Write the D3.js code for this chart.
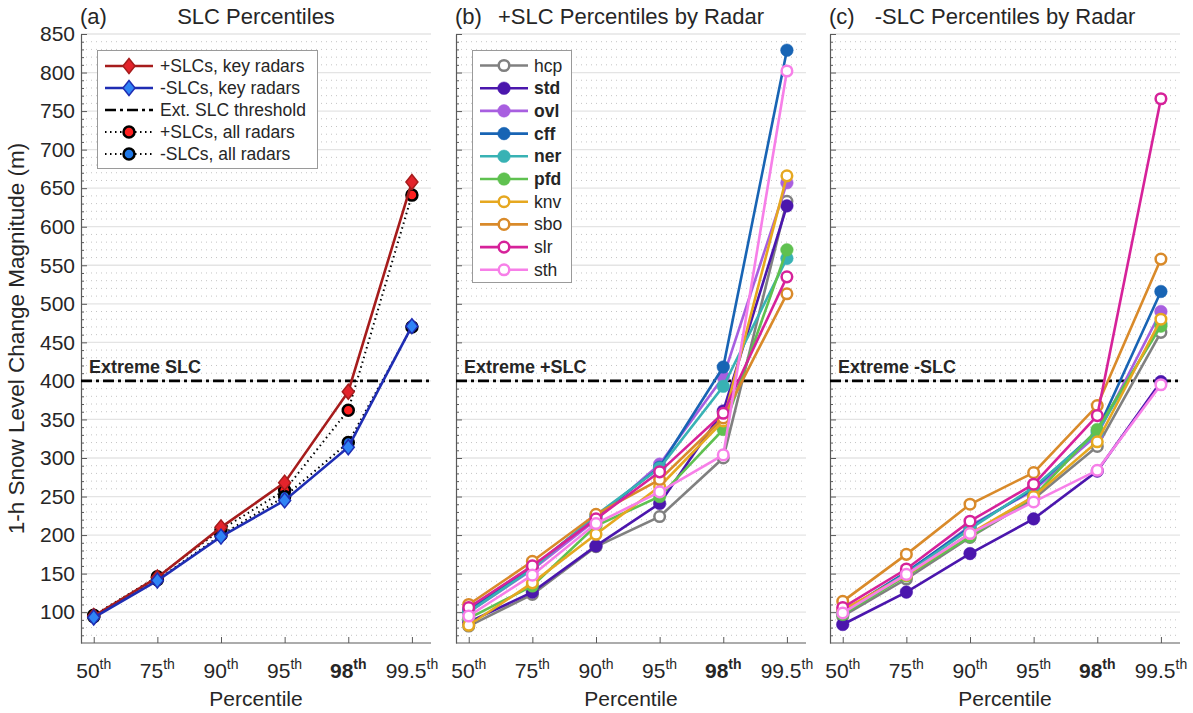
<!DOCTYPE html>
<html>
<head>
<meta charset="utf-8">
<script src="https://cdn.jsdelivr.net/npm/d3@7"></script>
<style>
  body { margin: 0; background: #fff; }
  svg { display: block; }
  text { font-family: "Liberation Sans", Arial, Helvetica, sans-serif; fill: #262626; }
</style>
</head>
<body>
<svg id="chart" width="1193" height="713"></svg>
<script>
// ---- data -------------------------------------------------------------
const percentileLabels = ["50", "75", "90", "95", "98", "99.5"];
const boldPercentile = "98";
const yTickValues = d3.range(100, 851, 50);
const extremeThreshold = 400;

// panel (a): overall SLC percentiles (m)
const plusKeyRadars  = [95, 145, 210, 268, 386, 658];
const minusKeyRadars = [93, 141, 198, 245, 314, 471];
const plusAllRadars  = [96, 146, 207, 258, 362, 641];
const minusAllRadars = [94, 142, 200, 250, 320, 470];

// radars (key radars are drawn with filled markers and bold legend text)
const radarNames  = ["hcp", "std", "ovl", "cff", "ner", "pfd", "knv", "sbo", "slr", "sth"];
const radarColors = ["#808080", "#4b16ad", "#a85fe0", "#1864b4", "#38b2b4", "#5fc150", "#e6a820", "#d98a2a", "#d6229a", "#f77fe8"];
const radarIsKey  = [false, true, true, true, true, true, false, false, false, false];

// panel (b): +SLC percentiles by radar (m)
const plusHcp = [82, 123, 185, 224, 300, 633];
const plusStd = [87, 126, 186, 241, 361, 627];
const plusOvl = [100, 155, 220, 292, 405, 657];
const plusCff = [103, 158, 224, 288, 418, 829];
const plusNer = [100, 156, 226, 287, 393, 559];
const plusPfd = [92, 134, 212, 250, 337, 570];
const plusKnv = [83, 138, 201, 263, 348, 666];
const plusSbo = [110, 166, 227, 272, 352, 513];
const plusSlr = [106, 160, 221, 282, 358, 535];
const plusSth = [95, 148, 215, 256, 304, 802];

// panel (c): -SLC percentiles by radar (m)
const minusHcp = [95, 143, 197, 247, 315, 463];
const minusStd = [84, 126, 176, 221, 283, 399];
const minusOvl = [98, 150, 212, 258, 330, 490];
const minusCff = [100, 152, 210, 260, 335, 516];
const minusNer = [100, 150, 208, 262, 333, 474];
const minusPfd = [97, 147, 198, 250, 337, 471];
const minusKnv = [103, 148, 202, 250, 321, 480];
const minusSbo = [114, 175, 240, 281, 368, 558];
const minusSlr = [106, 156, 218, 266, 355, 766];
const minusSth = [99, 149, 202, 243, 284, 395];

const plusByRadar  = [plusHcp, plusStd, plusOvl, plusCff, plusNer, plusPfd, plusKnv, plusSbo, plusSlr, plusSth];
const minusByRadar = [minusHcp, minusStd, minusOvl, minusCff, minusNer, minusPfd, minusKnv, minusSbo, minusSlr, minusSth];

// ---- layout -----------------------------------------------------------
const svg = d3.select("#chart");
const plotTop = 34, plotBottom = 643, panelW = 350;
const panelLefts = [81, 456, 830];
const y = d3.scaleLinear().domain([60, 850]).range([plotBottom, plotTop]);
const xIdx = d3.range(1, percentileLabels.length + 1);

const FONT_TICK = 21, FONT_TITLE = 22, FONT_LEG = 17.5;
const DASHDOT = "11,4,3,4";

function makeX(left) {
  return d3.scaleLinear().domain([0.8, 6.3]).range([left, left + panelW]);
}

function drawFrame(g, x, showYLabels) {
  // minor dotted grid
  const minorVals = d3.range(70, 851, 10).filter(v => v % 50 !== 0);
  g.append("g").selectAll("line").data(minorVals).join("line")
    .attr("x1", x.range()[0]).attr("x2", x.range()[1])
    .attr("y1", d => y(d)).attr("y2", d => y(d))
    .attr("stroke", "#c4c4c4").attr("stroke-width", 1)
    .attr("stroke-dasharray", "1,4");
  // major grid
  g.append("g").selectAll("line").data(yTickValues).join("line")
    .attr("x1", x.range()[0]).attr("x2", x.range()[1])
    .attr("y1", d => y(d)).attr("y2", d => y(d))
    .attr("stroke", "#e4e4e4").attr("stroke-width", 1.3);

  // y axis with inward ticks
  const yAxis = d3.axisLeft(y).tickValues(yTickValues).tickSize(-6).tickSizeOuter(0).tickPadding(6)
    .tickFormat(showYLabels ? d3.format("d") : "");
  const ya = g.append("g").attr("transform", `translate(${x.range()[0]},0)`).call(yAxis);
  ya.selectAll("text").attr("font-size", FONT_TICK).attr("fill", "#262626")
    .style("font-family", "'Liberation Sans', Arial, sans-serif");
  const minorAxis = d3.axisLeft(y).tickValues(minorVals)
    .tickSize(-3).tickSizeOuter(0).tickFormat("");
  const ym = g.append("g").attr("transform", `translate(${x.range()[0]},0)`).call(minorAxis);
  ym.select(".domain").remove();
  [ya, ym].forEach(a => {
    a.selectAll("line").attr("stroke", "#5a5a5a");
    a.selectAll(".domain").attr("stroke", "#5a5a5a").attr("stroke-width", 1.2);
  });

  // x axis
  const xAxis = d3.axisBottom(x).tickValues(xIdx).tickSize(-6).tickSizeOuter(0).tickFormat("");
  const xa = g.append("g").attr("transform", `translate(0,${plotBottom})`).call(xAxis);
  xa.selectAll("line").attr("stroke", "#5a5a5a");
  xa.select(".domain").attr("stroke", "#5a5a5a").attr("stroke-width", 1.2)
    .attr("d", `M${x.range()[0]},0H${x.range()[1]}`);

  // percentile labels with superscript ordinals
  const lab = g.append("g").selectAll("text").data(percentileLabels).join("text")
    .attr("x", (d, i) => x(xIdx[i])).attr("y", 678)
    .attr("text-anchor", "middle").attr("font-size", FONT_TICK)
    .attr("font-weight", d => d === boldPercentile ? "bold" : "normal");
  lab.append("tspan").text(d => d);
  lab.append("tspan").attr("dy", -9).attr("font-size", 14).text("th");

  g.append("text").attr("x", (x.range()[0] + x.range()[1]) / 2).attr("y", 706)
    .attr("text-anchor", "middle").attr("font-size", FONT_TICK).text("Percentile");
}

function drawTitle(g, x, tag, title) {
  g.append("text").attr("x", x.range()[0] - 1).attr("y", 24).attr("font-size", FONT_TITLE).text(tag);
  g.append("text").attr("x", (x.range()[0] + x.range()[1]) / 2).attr("y", 24)
    .attr("text-anchor", "middle").attr("font-size", FONT_TITLE).text(title);
}

function drawThreshold(g, x, label) {
  g.append("line").attr("x1", x.range()[0]).attr("x2", x.range()[1])
    .attr("y1", y(extremeThreshold)).attr("y2", y(extremeThreshold))
    .attr("stroke", "#000").attr("stroke-width", 2.6).attr("stroke-dasharray", DASHDOT);
  g.append("text").attr("x", x.range()[0] + 8).attr("y", y(extremeThreshold) - 8)
    .attr("font-size", 18).attr("font-weight", "bold").attr("fill", "#000").text(label);
}

function diamondPath(cx, cy, hw = 6, hh = 7.5) {
  return `M${cx},${cy - hh}L${cx + hw},${cy}L${cx},${cy + hh}L${cx - hw},${cy}Z`;
}

// ---- panel (a) --------------------------------------------------------
{
  const x = makeX(panelLefts[0]);
  const g = svg.append("g");
  drawFrame(g, x, true);
  drawTitle(g, x, "(a)", "SLC Percentiles");
  drawThreshold(g, x, "Extreme SLC");

  const line = d3.line().x((d, i) => x(xIdx[i])).y(d => y(d));

  // all-radar percentiles: dotted black lines with circle markers
  [[plusAllRadars, "#ff2020"], [minusAllRadars, "#1f78e8"]].forEach(([vals, fill]) => {
    g.append("path").attr("d", line(vals)).attr("fill", "none")
      .attr("stroke", "#000").attr("stroke-width", 2).attr("stroke-dasharray", "1.5,3.5");
    g.append("g").selectAll("circle").data(vals).join("circle")
      .attr("cx", (d, i) => x(xIdx[i])).attr("cy", d => y(d)).attr("r", 5.5)
      .attr("fill", fill).attr("stroke", "#000").attr("stroke-width", 2.5);
  });

  // key-radar percentiles: solid lines with diamonds
  [[plusKeyRadars, "#a61c1c", "#e3232b"], [minusKeyRadars, "#1f2db3", "#2f84f5"]].forEach(([vals, stroke, fill]) => {
    g.append("path").attr("d", line(vals)).attr("fill", "none")
      .attr("stroke", stroke).attr("stroke-width", 2.6);
    g.append("g").selectAll("path").data(vals).join("path")
      .attr("d", (d, i) => diamondPath(x(xIdx[i]), y(d)))
      .attr("fill", fill).attr("stroke", stroke).attr("stroke-width", 1.5);
  });

  // legend
  const lg = g.append("g");
  lg.append("rect").attr("x", 97.5).attr("y", 50.5).attr("width", 220).attr("height", 118)
    .attr("fill", "#fff").attr("stroke", "#9a9a9a").attr("stroke-width", 1);
  const rows = [
    { text: "+SLCs, key radars", kind: "diamond", stroke: "#a61c1c", fill: "#e3232b" },
    { text: "-SLCs, key radars", kind: "diamond", stroke: "#1f2db3", fill: "#2f84f5" },
    { text: "Ext. SLC threshold", kind: "dashdot" },
    { text: "+SLCs, all radars", kind: "circle", fill: "#ff2020" },
    { text: "-SLCs, all radars", kind: "circle", fill: "#1f78e8" }
  ];
  rows.forEach((r, i) => {
    const cy = 66 + i * 22;
    const x0 = 105, x1 = 153, cx = 129;
    if (r.kind === "diamond") {
      lg.append("line").attr("x1", x0).attr("x2", x1).attr("y1", cy).attr("y2", cy)
        .attr("stroke", r.stroke).attr("stroke-width", 2.6);
      lg.append("path").attr("d", diamondPath(cx, cy)).attr("fill", r.fill)
        .attr("stroke", r.stroke).attr("stroke-width", 1.5);
    } else if (r.kind === "dashdot") {
      lg.append("line").attr("x1", x0).attr("x2", x1).attr("y1", cy).attr("y2", cy)
        .attr("stroke", "#000").attr("stroke-width", 2.6).attr("stroke-dasharray", DASHDOT);
    } else {
      lg.append("line").attr("x1", x0).attr("x2", x1).attr("y1", cy).attr("y2", cy)
        .attr("stroke", "#000").attr("stroke-width", 2).attr("stroke-dasharray", "1.5,3.5");
      lg.append("circle").attr("cx", cx).attr("cy", cy).attr("r", 5.5)
        .attr("fill", r.fill).attr("stroke", "#000").attr("stroke-width", 2.5);
    }
    lg.append("text").attr("x", 160).attr("y", cy + 6).attr("font-size", FONT_LEG).text(r.text);
  });
}

// ---- panels (b) and (c) -----------------------------------------------
function radarPanel(left, tag, title, thresholdLabel, seriesList, withLegend) {
  const x = makeX(left);
  const g = svg.append("g");
  drawFrame(g, x, false);
  drawTitle(g, x, tag, title);
  drawThreshold(g, x, thresholdLabel);

  const line = d3.line().x((d, i) => x(xIdx[i])).y(d => y(d));
  seriesList.forEach((vals, k) => {
    const col = radarColors[k];
    g.append("path").attr("d", line(vals)).attr("fill", "none")
      .attr("stroke", col).attr("stroke-width", 2.6);
    g.append("g").selectAll("circle").data(vals).join("circle")
      .attr("cx", (d, i) => x(xIdx[i])).attr("cy", d => y(d))
      .attr("r", radarIsKey[k] ? 6.3 : 5.3)
      .attr("fill", radarIsKey[k] ? col : "#fff")
      .attr("stroke", col).attr("stroke-width", radarIsKey[k] ? 0.5 : 2.5);
  });

  if (withLegend) {
    const lg = g.append("g");
    lg.append("rect").attr("x", left + 16.5).attr("y", 50.5).attr("width", 99).attr("height", 232)
      .attr("fill", "#fff").attr("stroke", "#9a9a9a").attr("stroke-width", 1);
    radarNames.forEach((name, k) => {
      const cy = 65.5 + k * 22.7;
      const col = radarColors[k];
      lg.append("line").attr("x1", left + 24).attr("x2", left + 72).attr("y1", cy).attr("y2", cy)
        .attr("stroke", col).attr("stroke-width", 2.6);
      lg.append("circle").attr("cx", left + 48).attr("cy", cy)
        .attr("r", radarIsKey[k] ? 6.3 : 5.3)
        .attr("fill", radarIsKey[k] ? col : "#fff")
        .attr("stroke", col).attr("stroke-width", radarIsKey[k] ? 0.5 : 2.5);
      lg.append("text").attr("x", left + 78).attr("y", cy + 6).attr("font-size", FONT_LEG)
        .attr("font-weight", radarIsKey[k] ? "bold" : "normal").text(name);
    });
  }
}

radarPanel(panelLefts[1], "(b)", "+SLC Percentiles by Radar", "Extreme +SLC", plusByRadar, true);
radarPanel(panelLefts[2], "(c)", "-SLC Percentiles by Radar", "Extreme -SLC", minusByRadar, false);

// shared y-axis label
svg.append("text")
  .attr("transform", `translate(24,${(plotTop + plotBottom) / 2}) rotate(-90)`)
  .attr("text-anchor", "middle").attr("font-size", 22.5)
  .text("1-h Snow Level Change Magnitude (m)");
</script>
</body>
</html>
